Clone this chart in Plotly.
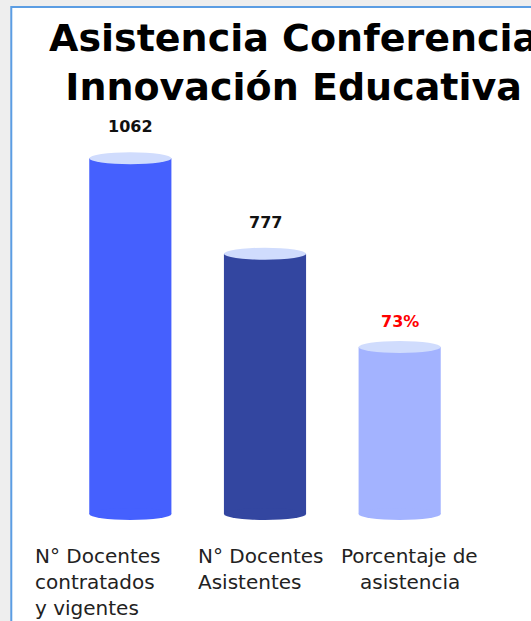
import plotly.graph_objects as go

# Data
categories = ["N° Docentes<br>contratados<br>y vigentes", "N° Docentes<br>Asistentes", "Porcentaje de<br>asistencia"]
counts = [1062, 777]
percent = [73]
value_labels = ["1062", "777", "73%"]

bar_colors = ["#4560fe", "#3346a0", "#a3b3ff"]
cap_color = "#d0dcfd"
half_w = 0.305

fig = go.Figure()
fig.add_trace(go.Bar(x=categories[:2], y=counts, marker_color=bar_colors[:2],
                     marker_line_width=0, hoverinfo="skip"))
fig.add_trace(go.Bar(x=categories[2:], y=percent, marker_color=bar_colors[2],
                     marker_line_width=0, yaxis="y2", hoverinfo="skip"))

# cylinder caps: bottom ellipse in bar colour, top ellipse light
tops = [(0, counts[0], "y"), (1, counts[1], "y"), (2, percent[0], "y2")]
for i, val, yref in tops:
    fig.add_shape(type="circle", xref="x", yref=yref, ysizemode="pixel", yanchor=0,
                  x0=i - half_w, x1=i + half_w, y0=-6, y1=6,
                  fillcolor=bar_colors[i], line_width=0, layer="above")
    fig.add_shape(type="circle", xref="x", yref=yref, ysizemode="pixel", yanchor=val,
                  x0=i - half_w, x1=i + half_w, y0=-6, y1=6,
                  fillcolor=cap_color, line_width=0, layer="above")
    fig.add_annotation(x=i, y=val, yref=yref, text=f"<b>{value_labels[i]}</b>",
                       showarrow=False, yanchor="bottom", yshift=20 if i < 2 else 14,
                       font=dict(family="DejaVu Sans", size=16,
                                 color="#ff0000" if i == 2 else "#111111"))

# category labels, one annotation per line
label_pos = [(-97, "left"), (-69, "left"), (10, "center")]
for i, cat in enumerate(categories):
    xs, anchor = label_pos[i]
    for j, line in enumerate(cat.split("<br>")):
        fig.add_annotation(x=i, y=0, text=line, showarrow=False, xanchor=anchor,
                           xshift=xs, yanchor="middle", yshift=-42 - 26 * j,
                           font=dict(family="DejaVu Sans", size=20, color="#222222"))

# title
fig.add_annotation(text="<b>Asistencia Conferencia<br>Innovación Educativa</b>",
                   xref="paper", yref="paper", x=0.5716, y=1.119,
                   xanchor="center", yanchor="middle", showarrow=False,
                   font=dict(family="DejaVu Sans", size=38, color="#000000"))

# white card with blue border
fig.add_shape(type="rect", xref="paper", yref="paper", x0=-0.128, x1=2, y0=-1, y1=1.255,
              fillcolor="white", line=dict(color="#5b9de3", width=2), layer="below")

fig.update_layout(
    barmode="overlay",
    bargap=0.39,
    showlegend=False,
    width=531, height=621,
    margin=dict(l=62.5, r=63.5, t=112, b=97),
    paper_bgcolor="#eeeeee",
    plot_bgcolor="rgba(0,0,0,0)",
    xaxis=dict(showticklabels=False, showgrid=False, zeroline=False, showline=False,
               range=[-0.5, 2.5]),
    yaxis=dict(visible=False, range=[-30, 1200]),
    yaxis2=dict(visible=False, overlaying="y", range=[-4.4, 175.8]),
)

fig.write_html("out.html", config={"displayModeBar": False},
               post_script="document.body.style.margin='0px';")
